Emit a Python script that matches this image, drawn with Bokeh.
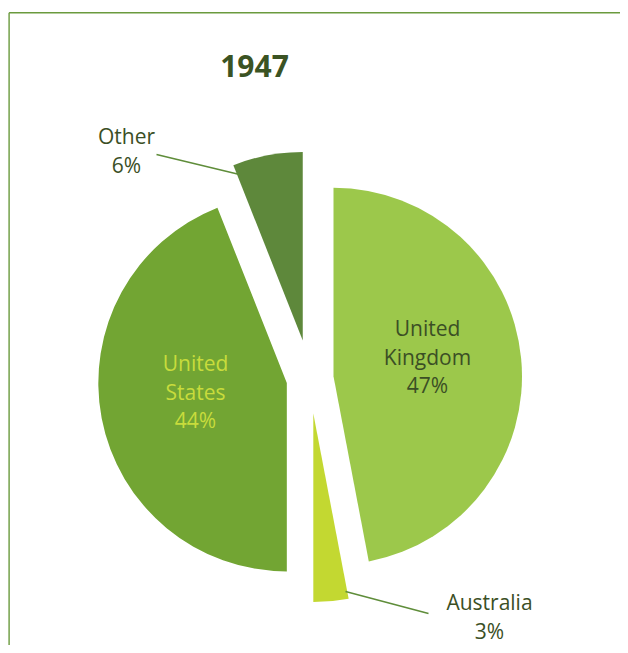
import numpy as np
from bokeh.plotting import figure
from bokeh.models import Range1d, ColumnDataSource
from bokeh.embed import file_html
from bokeh.resources import INLINE
from bokeh.core.properties import value

# ---------------- data ----------------
title_text = "1947"
categories = ["United Kingdom", "Australia", "United States", "Other"]
shares = [47, 3, 44, 6]

# ---------------- style / layout ----------------
W, H = 620, 645
slice_colors = ["#9cc84b", "#c3d831", "#72a533", "#5e883b"]
explode = [23.6, 35.2, 23.6, 38.7]          # px, along each slice's mid angle
label_colors = ["#3b4f25", "#3b4f25", "#c8dc3c", "#3b4f25"]
label_anchor = [(427, 336.7), (489, 610.7), (195, 371.7), (126, 145)]  # picture px (center x, first baseline)
line_gap = 28.6
leaders = {"Other": ((156, 154), (239, 174)), "Australia": ((345, 591), (428, 613))}
CX, CY, R = 309.5, 378, 188.5               # picture px
FONT = "Open Sans"
LABEL_SIZE = 21
TITLE_SIZE = 30
BASE_FIX = 0.43                              # renderer baseline correction (em)

def py(y):  # picture y -> data y
    return H - y

p = figure(width=W, height=H, output_backend="svg", toolbar_location=None,
           x_range=Range1d(0, W), y_range=Range1d(0, H),
           x_axis_location=None, y_axis_location=None, min_border=0,
           outline_line_color=None, background_fill_color="white",
           border_fill_color="white")
p.grid.visible = False

# border frame (top + left)
p.line([8.6, 700], [py(12.3), py(12.3)], line_color="#6a9a3d", line_width=1.4)
p.line([8.6, 8.6], [py(12.3), -50], line_color="#6a9a3d", line_width=1.4)

# pie
frac = np.array(shares, dtype=float) / sum(shares)
cum_before = np.concatenate([[0], np.cumsum(frac)[:-1]])
start = np.pi / 2 - 2 * np.pi * cum_before
end = start - 2 * np.pi * frac
mid = (start + end) / 2
xs = CX + np.array(explode) * np.cos(mid)
ys = py(CY) + np.array(explode) * np.sin(mid)
src = ColumnDataSource(dict(x=xs, y=ys, s=end, e=start, c=slice_colors, cat=categories))
p.wedge(x="x", y="y", radius=R, start_angle="s", end_angle="e", direction="anticlock",
        fill_color="c", line_color=None, source=src)

# leader lines
for name, ((x0, y0), (x1, y1)) in leaders.items():
    p.line([x0, x1], [py(y0), py(y1)], line_color="#5f8d3a", line_width=1.6)

# labels
tx, ty, tt, tc = [], [], [], []
for cat, sh, (ax, ay), col in zip(categories, shares, label_anchor, label_colors):
    lines = cat.split(" ") + [f"{sh}%"]
    for k, ln in enumerate(lines):
        tx.append(ax)
        ty.append(py(ay + k * line_gap - BASE_FIX * LABEL_SIZE))
        tt.append(ln)
        tc.append(col)
p.text(x=tx, y=ty, text=tt, text_color=tc, text_font=value(FONT),
       text_font_size=f"{LABEL_SIZE}px", text_align="center", text_baseline="alphabetic")

# title
p.text(x=[254], y=[py(78.3 - BASE_FIX * TITLE_SIZE)], text=[title_text], text_color="#3b5323",
       text_font=value(FONT), text_font_size=f"{TITLE_SIZE}px", text_font_style="bold",
       text_align="center", text_baseline="alphabetic")

open("out.html", "w").write(file_html(p, INLINE))
